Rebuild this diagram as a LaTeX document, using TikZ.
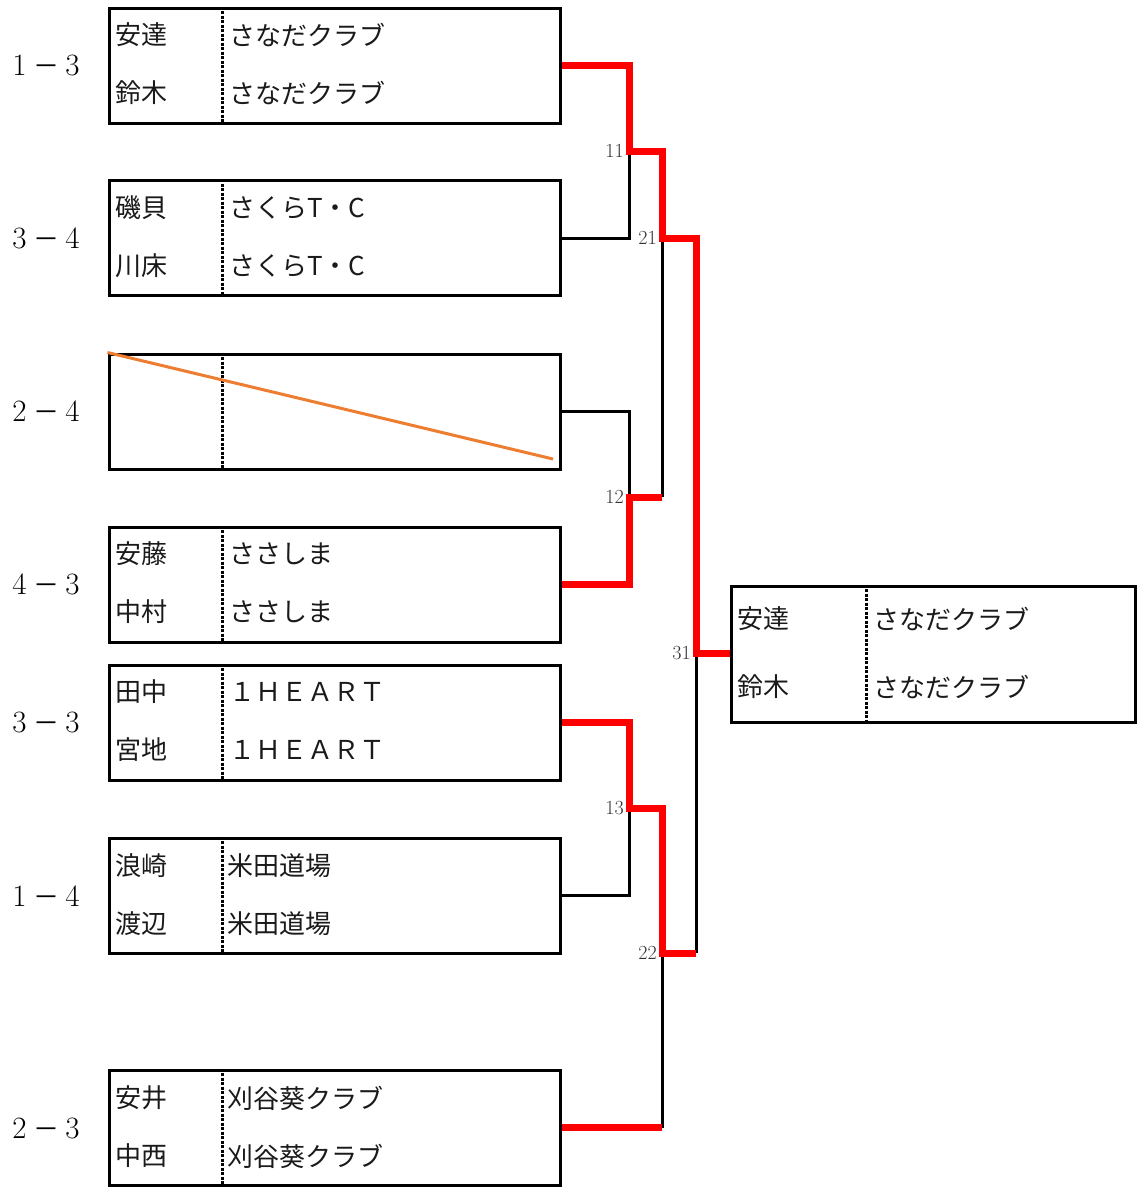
\documentclass[tikz,border=0pt]{standalone}
\usepackage{fontspec}
\newfontfamily\jp{Noto Sans CJK JP}
\definecolor{txt}{HTML}{1A1A1A}
\definecolor{lbl}{HTML}{333333}
\definecolor{winred}{HTML}{FF0000}
\definecolor{strike}{HTML}{ED7D31}
\newcommand{\scoretxt}[2]{#1\hspace{7pt}{\jp\fontsize{26}{26}\selectfont －}\hspace{6pt}#2}
\begin{document}
\begin{tikzpicture}[x=1pt,y=-1pt,
  box/.style={draw=black,line width=3pt,minimum width=451pt,minimum height=115pt,inner sep=0pt},
  fbox/.style={draw=black,line width=3pt,minimum width=404pt,minimum height=136pt,inner sep=0pt},
  divider/.style={black,line width=3pt,dash pattern=on 3pt off 1.5pt},
  nm/.style={anchor=west,inner sep=0pt,text=txt,font=\jp\fontsize{26}{26}\selectfont},
  score/.style={inner sep=0pt,text=black,font=\fontsize{31}{31}\selectfont},
  mlabel/.style={anchor=east,inner sep=0pt,text=lbl,font=\fontsize{20}{20}\selectfont},
  lose/.style={black,line width=3pt},
  win/.style={winred,line width=7pt,line join=miter}]
\useasboundingbox (0,0) rectangle (1137,1187);
\fill[white] (0,0) rectangle (1137,1187);

% boxes
\node[box] (b1) at (334.5,65.5) {};
\node[box] (b2) at (334.5,238) {};
\node[box] (b3) at (334.5,411.5) {};
\node[box] (b4) at (334.5,584.5) {};
\node[box] (b5) at (334.5,722.5) {};
\node[box] (b6) at (334.5,895.5) {};
\node[box] (b7) at (334.5,1127.5) {};
\node[fbox] (bf) at (933,654) {};

% dividers
\foreach \b in {b1,b2,b3,b4,b5,b6,b7}{
  \draw[divider] (222,0 |- \b.north) -- (222,0 |- \b.south);
}
\draw[divider] (866,0 |- bf.north) -- (866,0 |- bf.south);

% strike line in empty box
\draw[strike,line width=3pt] (b3.north west) -- (553,459);

% score labels
\node[score] (s1) at (46,65) {\scoretxt{1}{3}};
\node[score] (s2) at (46,238) {\scoretxt{3}{4}};
\node[score] (s3) at (46,411) {\scoretxt{2}{4}};
\node[score] (s4) at (46,584) {\scoretxt{4}{3}};
\node[score] (s5) at (46,722) {\scoretxt{3}{3}};
\node[score] (s6) at (46,896) {\scoretxt{1}{4}};
\node[score] (s7) at (46,1128) {\scoretxt{2}{3}};

% names
\node[nm] (n1a) at (115,35) {安達};
\node[nm] (t1a) at (229,35) {さなだクラブ};
\node[nm] (n1b) at (115,93) {鈴木};
\node[nm] (t1b) at (229,93) {さなだクラブ};
\node[nm] (n2a) at (115,208) {磯貝};
\node[nm] (t2a) at (229,208) {さくらT・C};
\node[nm] (n2b) at (115,266) {川床};
\node[nm] (t2b) at (229,266) {さくらT・C};
\node[nm] (n4a) at (115,554) {安藤};
\node[nm] (t4a) at (229,554) {ささしま};
\node[nm] (n4b) at (115,612) {中村};
\node[nm] (t4b) at (229,612) {ささしま};
\node[nm] (n5a) at (115,692) {田中};
\node[nm] (t5a) at (229,692) {１ＨＥＡＲＴ};
\node[nm] (n5b) at (115,750) {宮地};
\node[nm] (t5b) at (229,750) {１ＨＥＡＲＴ};
\node[nm] (n6a) at (115,866) {浪崎};
\node[nm] (t6a) at (227,866) {米田道場};
\node[nm] (n6b) at (115,924) {渡辺};
\node[nm] (t6b) at (227,924) {米田道場};
\node[nm] (n7a) at (115,1098) {安井};
\node[nm] (t7a) at (227,1098) {刈谷葵クラブ};
\node[nm] (n7b) at (115,1156) {中西};
\node[nm] (t7b) at (227,1156) {刈谷葵クラブ};
\node[nm] (nfa) at (737,619) {安達};
\node[nm] (tfa) at (873,619) {さなだクラブ};
\node[nm] (nfb) at (737,687) {鈴木};
\node[nm] (tfb) at (873,687) {さなだクラブ};

% match points
\coordinate (m11) at (629,151);
\coordinate (m12) at (629,497);
\coordinate (m13) at (629,808);
\coordinate (m21) at (662,238);
\coordinate (m22) at (662,953);
\coordinate (m31) at (696,653);

% losing lines
\draw[lose] (b2.east) -| (m11);
\draw[lose] (b3.east) -| (m12);
\draw[lose] (b6.east) -| (m13);
\draw[lose] (m21) -- (m21 |- m12);
\draw[lose] (m31) -- (m31 |- m22);
\draw[lose] (m22) -- (m22 |- b7.east);

% winning lines
\draw[win] (b1.east) -| (m11) -| (m21) -| (m31) -- (bf.west |- m31);
\draw[win] (b4.east) -| (m12) -- (m21 |- m12);
\draw[win] (b5.east) -| (m13) -| (m22) -- (m31 |- m22);
\draw[win] (b7.east) -- (m22 |- b7.east);

% match labels
\node[mlabel] (l11) at (624,151) {11};
\node[mlabel] (l21) at (657,238) {21};
\node[mlabel] (l12) at (624,497) {12};
\node[mlabel] (l31) at (691,653) {31};
\node[mlabel] (l13) at (624,808) {13};
\node[mlabel] (l22) at (657,953) {22};
\end{tikzpicture}
\end{document}
